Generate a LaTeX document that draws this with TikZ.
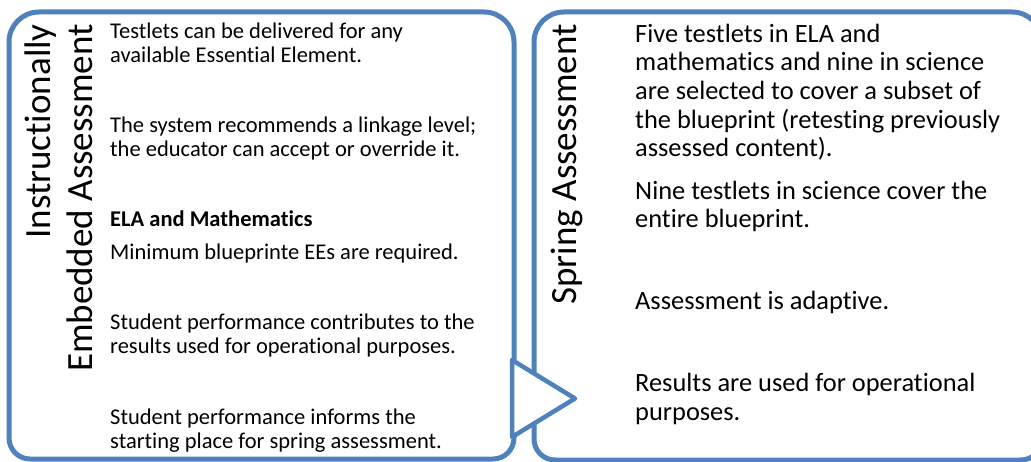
\documentclass[tikz,border=0pt]{standalone}
\usepackage{fontspec}
\setmainfont{Carlito}[Ligatures=NoCommon]
\usetikzlibrary{shapes.geometric, positioning}
\definecolor{panelBlue}{RGB}{79,129,189}

\begin{document}
\begin{tikzpicture}[
    x=1pt, y=-1pt,
    panel/.style={draw=panelBlue, line width=5pt},
    heading/.style={rotate=90, anchor=base east, inner sep=0pt, align=right, font=\fontsize{37}{42}\selectfont},
    leftnote/.style={anchor=base west, inner sep=0pt, align=left, font=\fontsize{22.5}{24.5}\selectfont},
    rightnote/.style={anchor=base west, inner sep=0pt, align=left, font=\fontsize{26.4}{28.7}\selectfont},
    chevron/.style={isosceles triangle, isosceles triangle stretches, shape border rotate=0, draw=panelBlue, fill=white, line width=4.5pt, line join=round, minimum width=77pt, minimum height=63pt, inner sep=0pt, outer sep=0pt}
]
\useasboundingbox (0,0) rectangle (1031,462);

% Panels
\draw[panel] (261.5,12) [rounded corners=30pt] -- (514,12) -- (514,235) [rounded corners=21pt] -- (514,459) -- (9,459) -- (9,235) [rounded corners=30pt] -- (9,12) -- cycle;
\draw[panel] (788,12) [rounded corners=30pt] -- (1042,12) -- (1042,235) [rounded corners=21pt] -- (1042,460) -- (534,460) -- (534,235) [rounded corners=30pt] -- (534,12) -- cycle;

% Headings (base = last line)
\node[heading] (embeddedTitle) at (92,24) {Instructionally\\Embedded Assessment};
\node[heading] (springTitle) at (576,24) {Spring Assessment};

% Instructionally embedded notes
\node[leftnote] (deliver) at (110,63) {Testlets can be delivered for any\\available Essential Element.};
\node[leftnote] (linkage) at (110,157) {The system recommends a linkage level;\\the educator can accept or override it.};
\node[leftnote] (subject) at (110,227) {\textbf{ELA and Mathematics}};
\node[leftnote] (minimum) at (110,260) {Minimum blueprinte EEs are required.};
\node[leftnote] (contrib) at (110,353.5) {Student performance contributes to the\\results used for operational purposes.};
\node[leftnote] (informs) at (110,448.5) {Student performance informs the\\starting place for spring assessment.};

% Spring notes
\node[rightnote] (subset) at (635,157) {Five testlets in ELA and\\mathematics and nine in science\\are selected to cover a subset of\\the blueprint (retesting previously\\assessed content).};
\node[rightnote] (science) at (635,228) {Nine testlets in science cover the\\entire blueprint.};
\node[rightnote] (adaptive) at (635,310) {Assessment is adaptive.};
\node[rightnote] (results) at (635,420) {Results are used for operational\\purposes.};

% Hand-off between windows
\node[chevron, anchor=apex] (handoff) at (575,398.5) {};
\end{tikzpicture}
\end{document}
